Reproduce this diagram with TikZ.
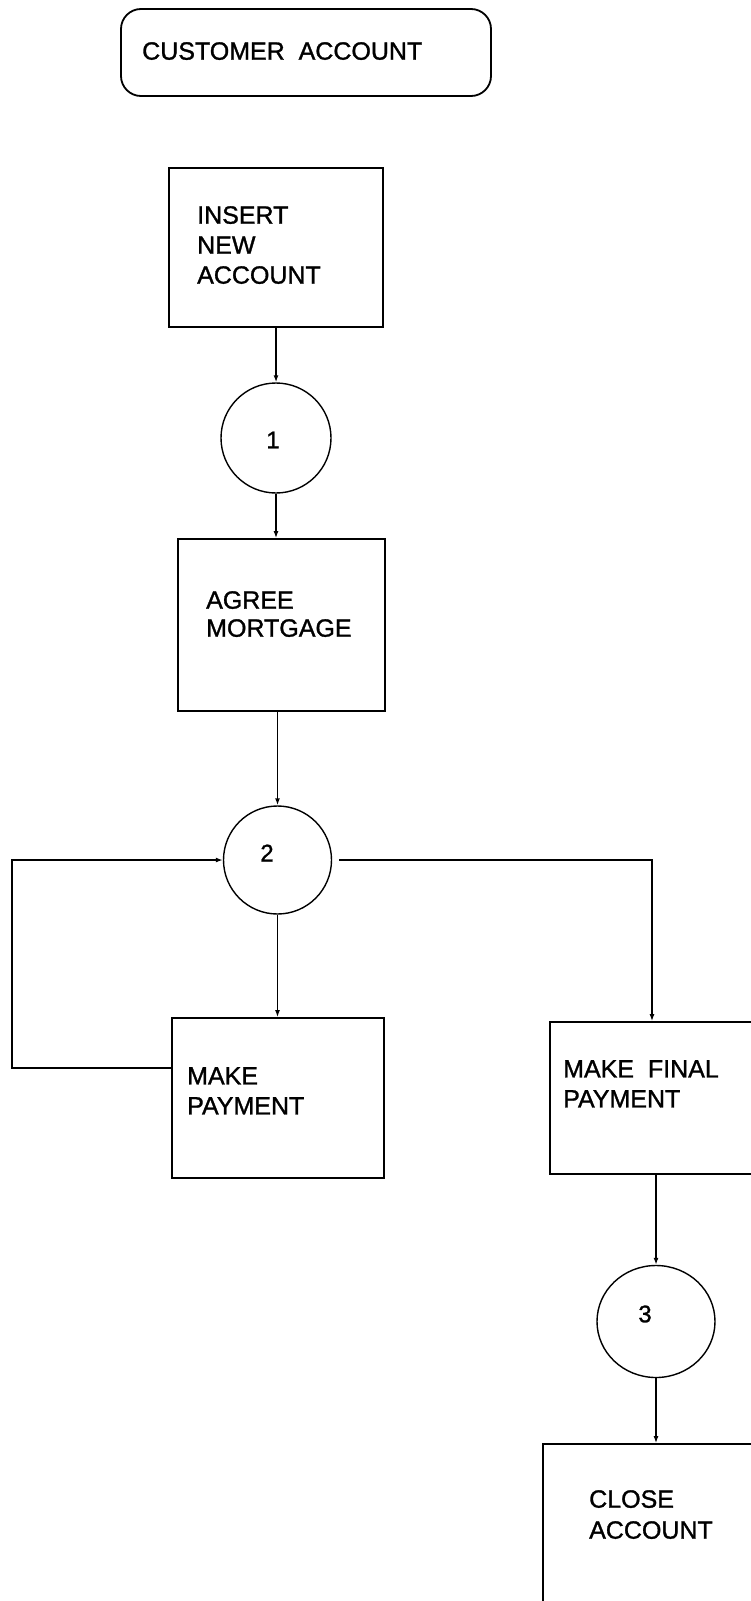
\documentclass[tikz,border=0pt]{standalone}
\usepackage{fontspec}
\setmainfont{Liberation Sans}[UprightFeatures={FakeBold=1.2}]
\usetikzlibrary{arrows.meta,shapes.geometric}
\begin{document}
\begin{tikzpicture}[x=1pt,y=-1pt,
  stepbox/.style={draw, rectangle, line width=1.8pt, inner sep=0pt},
  event/.style={draw, ellipse, line width=1.4pt, inner sep=0pt},
  txt/.style={anchor=north west, inner sep=0pt, align=left,
    font={\fontsize{25}{30}\selectfont}},
  num/.style={inner sep=0pt, font={\fontsize{24}{28}\selectfont}},
  conn/.style={line width=1.4pt, -{Latex[length=7pt,width=5pt]}}]
\useasboundingbox (0,0) rectangle (751,1601);
\clip (0,0) rectangle (751,1601);

% entity heading
\node[stepbox, rounded corners=20pt, minimum width=370pt, minimum height=87pt] (title) at (306,52.5) {};
\node[txt] (titletxt) at (142,42) {CUSTOMER\ \ ACCOUNT};

% process steps
\node[stepbox, minimum width=214pt, minimum height=159pt] (insert) at (276,247.5) {};
\node[txt] (inserttxt) at (197,206) {INSERT\\NEW\\ACCOUNT};

\node[stepbox, minimum width=207pt, minimum height=172pt] (agree) at (281.5,625) {};
\node[txt, font={\fontsize{25}{28}\selectfont}] (agreetxt) at (206,591) {AGREE\\MORTGAGE};

\node[stepbox, minimum width=212pt, minimum height=160pt] (pay) at (278,1098) {};
\node[txt] (paytxt) at (187,1067) {MAKE\\PAYMENT};

\node[stepbox, minimum width=220pt, minimum height=152pt] (final) at (660,1098) {};
\node[txt] (finaltxt) at (563,1060) {MAKE\ \ FINAL\\PAYMENT};

\node[stepbox, minimum width=227pt, minimum height=196pt] (close) at (656.5,1542) {};
\node[txt, font={\fontsize{25}{31}\selectfont}] (closetxt) at (589,1490) {CLOSE\\ACCOUNT};

% states
\node[event, minimum width=110pt, minimum height=110pt] (c1) at (276,438) {};
\node[num] (n1) at (273,440) {1};
\node[event, minimum width=108pt, minimum height=108pt] (c2) at (277.5,860) {};
\node[num] (n2) at (267,853) {2};
\node[event, minimum width=118pt, minimum height=112pt] (c3) at (656,1321.5) {};
\node[num] (n3) at (645,1314) {3};

% transitions
\draw[conn] (insert.south -| c1.north) -- (c1.north);
\draw[conn] (c1.south) -- (c1.south |- agree.north);
\draw[conn] (agree.south -| c2.north) -- (c2.north);
\draw[conn] (c2.south) -- (c2.south |- pay.north);

\coordinate (loopL) at (12,1068);
\draw[conn] (pay.west |- loopL) -- (loopL) -- (loopL |- c2.west) -- (c2.west);

\coordinate (rt) at (652,857);
\draw[conn, shorten <=7pt] (c2.east) -- (c2.east -| rt) -- (rt |- final.north);

\draw[conn] (final.south -| c3.north) -- (c3.north);
\draw[conn] (c3.south) -- (c3.south |- close.north);
\end{tikzpicture}
\end{document}
